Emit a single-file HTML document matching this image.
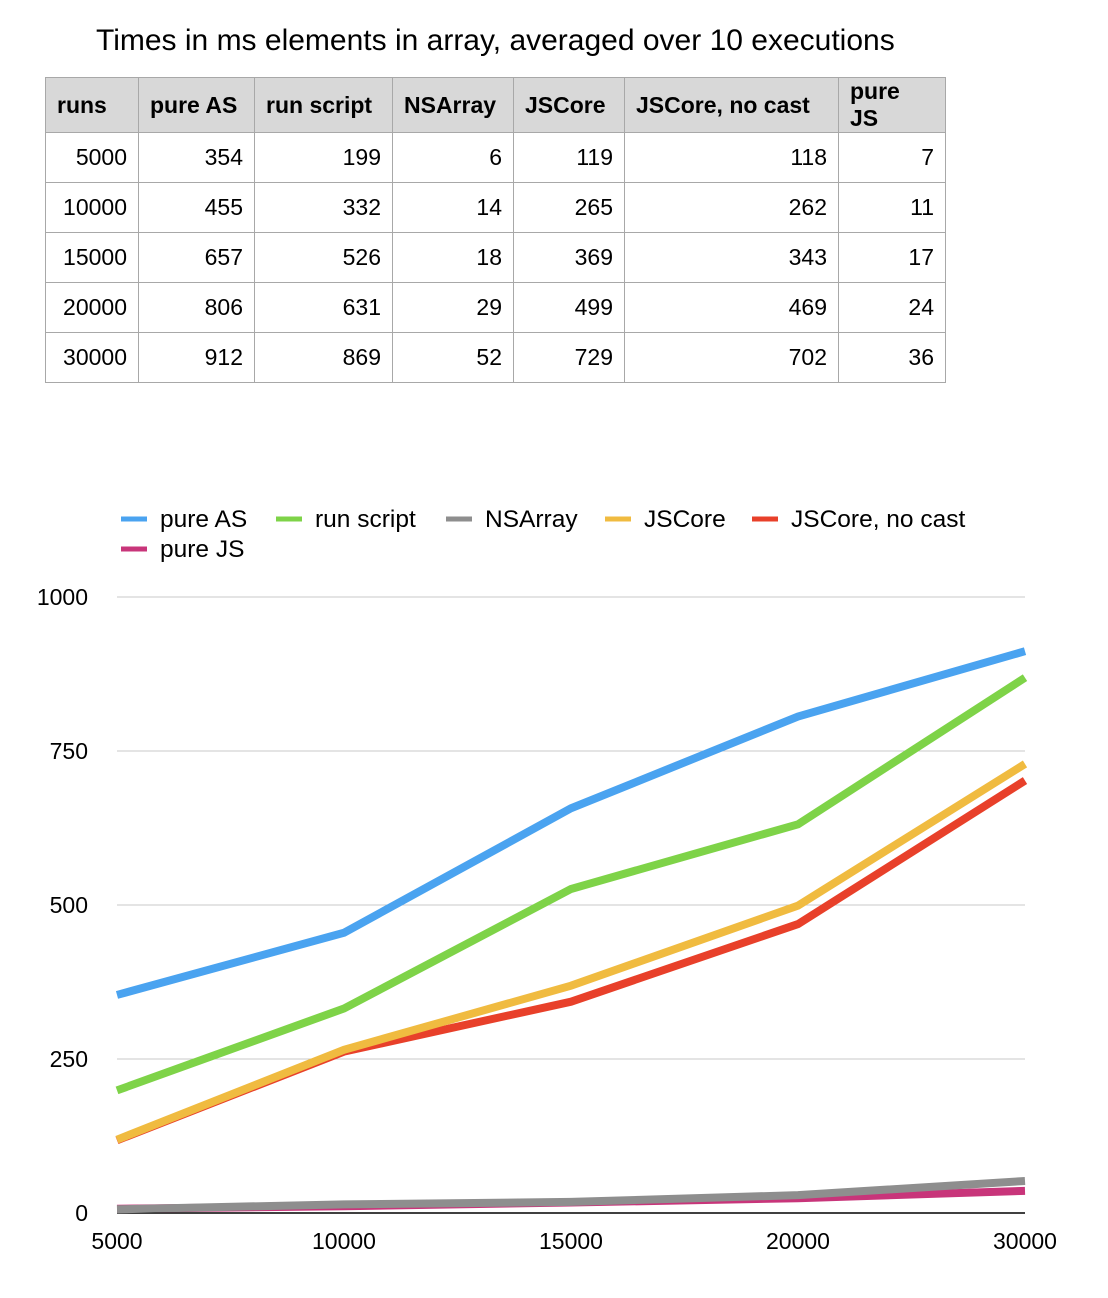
<!DOCTYPE html>
<html><head><meta charset="utf-8">
<style>
body{margin:0;background:#fff;font-family:"Liberation Sans",sans-serif;}
#wrap{position:relative;width:1108px;height:1298px;overflow:hidden;}
#title{position:absolute;left:96px;top:24px;font-size:30px;color:#000;white-space:nowrap;}
table{position:absolute;left:45px;top:77px;border-collapse:collapse;font-size:23px;}
td,th{border:1px solid #a8a8a8;height:49px;padding:0 11px;text-align:right;}
th{background:#d8d8d8;font-weight:bold;text-align:left;}
</style></head><body>
<div id="wrap">
<div id="title">Times in ms elements in array, averaged over 10 executions</div>
<table>
<tr><th style="width:70px">runs</th><th style="width:93px">pure AS</th><th style="width:115px">run script</th><th style="width:98px">NSArray</th><th style="width:88px">JSCore</th><th style="width:191px">JSCore, no cast</th><th style="width:84px">pure JS</th></tr>
<tr><td>5000</td><td>354</td><td>199</td><td>6</td><td>119</td><td>118</td><td>7</td></tr>
<tr><td>10000</td><td>455</td><td>332</td><td>14</td><td>265</td><td>262</td><td>11</td></tr>
<tr><td>15000</td><td>657</td><td>526</td><td>18</td><td>369</td><td>343</td><td>17</td></tr>
<tr><td>20000</td><td>806</td><td>631</td><td>29</td><td>499</td><td>469</td><td>24</td></tr>
<tr><td>30000</td><td>912</td><td>869</td><td>52</td><td>729</td><td>702</td><td>36</td></tr>
</table>
<svg id="chart" width="1108" height="1298" style="position:absolute;left:0;top:0"></svg>
</div>
<script>
const categories=["5000","10000","15000","20000","30000"];
const pureAS=[354,455,657,806,912];
const runScript=[199,332,526,631,869];
const nsArray=[6,14,18,29,52];
const jsCore=[119,265,369,499,729];
const jsCoreNoCast=[118,262,343,469,702];
const pureJS=[7,11,17,24,36];
const yTicks=[0,250,500,750,1000];
const seriesNames=["pure AS","run script","NSArray","JSCore","JSCore, no cast","pure JS"];
const seriesData=[pureAS,runScript,nsArray,jsCore,jsCoreNoCast,pureJS];
const colors=["#4aa3f0","#7ed348","#8e8e8e","#f0bb40","#e8402a","#c8357a"];
const drawOrder=[0,1,4,3,5,2];
const NS="http://www.w3.org/2000/svg";
const svg=document.getElementById('chart');
const x0=117,x1=1025,yBase=1213,yTop=597,yMax=1000;
function xs(i){return x0+(x1-x0)*i/(categories.length-1);}
function ys(v){return yBase-(yBase-yTop)*v/yMax;}
function mk(t,a){const e=document.createElementNS(NS,t);for(const k in a)e.setAttribute(k,a[k]);svg.appendChild(e);return e;}
yTicks.forEach(v=>{
  const l=mk('line',{x1:x0,x2:x1,y1:ys(v),y2:ys(v),stroke:v===0?'#000':'#c8c8c8','stroke-width':v===0?1.5:1});
  
  
  const t=mk('text',{x:88,y:ys(v)+8,'text-anchor':'end','font-size':23,'font-family':'Liberation Sans, sans-serif'});
  t.textContent=v;
  
  
});
categories.forEach((c,i)=>{
  const t=mk('text',{x:xs(i),y:1249,'text-anchor':'middle','font-size':23,'font-family':'Liberation Sans, sans-serif'});
  t.textContent=c;
  
  
});
drawOrder.forEach(s=>{
  const d=seriesData[s];
  const p=mk('polyline',{points:d.map((v,i)=>xs(i)+','+ys(v)).join(' '),fill:'none',stroke:colors[s],'stroke-width':8,'stroke-linejoin':'miter'});
  
  
});
const legX=[121,276,446,605,752,121],legY=[519,519,519,519,519,549];
seriesNames.forEach((n,s)=>{
  const m=mk('line',{x1:legX[s],x2:legX[s]+26,y1:legY[s],y2:legY[s],stroke:colors[s],'stroke-width':5});
  
  
  const t=mk('text',{x:legX[s]+39,y:legY[s]+8,'font-size':24.5,'font-family':'Liberation Sans, sans-serif'});
  t.textContent=n;
  
  
});
</script>
</body></html>
